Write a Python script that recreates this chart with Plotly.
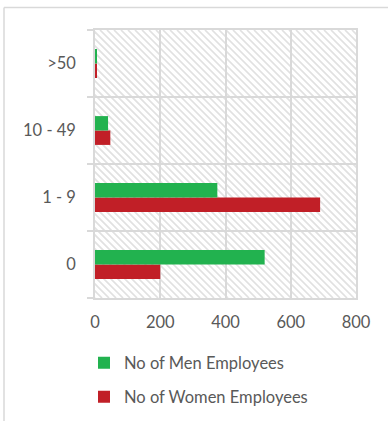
import plotly.graph_objects as go

# Employees by enterprise size class
size_classes = ["0", "1 - 9", "10 - 49", ">50"]
men_employees = [520, 375, 40, 4]
women_employees = [200, 690, 47, 5]
x_ticks = [0, 200, 400, 600, 800]
x_max = 800

GREEN = "#22b24f"
RED = "#c11f27"
GRID = "#d9d9d9"
TEXT = "#595959"
FONT = "Lato, 'Open Sans', sans-serif"

W, H = 388, 421
ML, MR, MT, MB = 95, 32, 30, 123
PW, PH = W - ML - MR, H - MT - MB


def paper_y(px_from_top):
    return 1 - (px_from_top - MT) / PH


def paper_x(px_from_left):
    return (px_from_left - ML) / PW


fig = go.Figure()

# Women bar sits below the category centre, men bar above it
fig.add_trace(go.Bar(
    y=size_classes, x=women_employees, orientation="h",
    name="No of Women Employees", marker_color=RED, marker_line_width=0,
    width=0.215, offset=-0.215, legend="legend2",
))
fig.add_trace(go.Bar(
    y=size_classes, x=men_employees, orientation="h",
    name="No of Men Employees", marker_color=GREEN, marker_line_width=0,
    width=0.215, offset=0.0, legend="legend",
))

# Diagonal hatch fill of the plotting area (data refs so it is clipped,
# drawn beneath the gridlines)
shapes = []
units_per_px = x_max / PW
y_lo, y_hi = -0.5, len(size_classes) - 0.5
step_px = 7.0
px = -PH
while px < PW:
    shapes.append(dict(
        type="line", xref="x", yref="y",
        x0=px * units_per_px, y0=y_hi,
        x1=(px + PH) * units_per_px, y1=y_lo,
        line=dict(color="#e1e1e1", width=1.7), layer="below",
    ))
    px += step_px

# Outer chart frame: top and left edges
frame = dict(color=GRID, width=1.5)
shapes.append(dict(type="line", xref="paper", yref="paper",
                   x0=paper_x(4), y0=paper_y(7.5), x1=paper_x(W + 5), y1=paper_y(7.5),
                   line=frame, layer="above"))
shapes.append(dict(type="line", xref="paper", yref="paper",
                   x0=paper_x(4), y0=paper_y(7.5), x1=paper_x(4), y1=paper_y(H + 5),
                   line=frame, layer="above"))

legend_style = dict(
    orientation="v", x=paper_x(84), xanchor="left", yanchor="middle",
    font=dict(family=FONT, size=16.5, color=TEXT),
    itemwidth=30, bgcolor="rgba(0,0,0,0)",
)

fig.update_layout(
    width=W, height=H,
    margin=dict(l=ML, r=MR, t=MT, b=MB, pad=0, autoexpand=False),
    barmode="overlay",
    paper_bgcolor="white", plot_bgcolor="white",
    font=dict(family=FONT, size=16.5, color=TEXT),
    shapes=shapes,
    showlegend=True,
    legend=dict(legend_style, y=paper_y(363)),
    legend2=dict(legend_style, y=paper_y(397)),
    xaxis=dict(
        range=[0, x_max], tickvals=x_ticks, ticktext=[str(v) for v in x_ticks],
        showgrid=True, gridcolor=GRID, gridwidth=1.6,
        showline=True, mirror=True, linecolor=GRID, linewidth=1.6,
        zeroline=False, ticks="",
        ticklabelstandoff=8,
        tickfont=dict(family=FONT, size=16.5, color=TEXT),
    ),
    yaxis=dict(
        type="category", categoryorder="array", categoryarray=size_classes,
        range=[y_lo, y_hi],
        tickson="boundaries", ticks="outside", ticklen=6,
        tickcolor=GRID, tickwidth=1.6,
        showgrid=True, gridcolor=GRID, gridwidth=1.6,
        showline=True, mirror=True, linecolor=GRID, linewidth=1.6,
        zeroline=False,
        ticklabelstandoff=14,
        tickfont=dict(family=FONT, size=16.5, color=TEXT),
    ),
)

fig.write_html("out.html")
